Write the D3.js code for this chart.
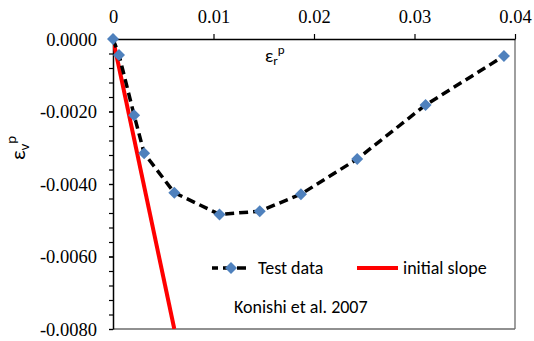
<!DOCTYPE html>
<html><head><meta charset="utf-8">
<script src="https://cdn.jsdelivr.net/npm/d3@7"></script>
<style>body{margin:0;background:#fff}svg{display:block}</style>
</head><body>
<svg id="c" width="534" height="341"></svg>
<script>
const testX = [0, 0.0006, 0.0021, 0.0031, 0.0061, 0.0106, 0.0146, 0.0187, 0.0243, 0.0311, 0.0389];
const testY = [0, -0.00044, -0.0021, -0.00315, -0.00424, -0.00484, -0.00475, -0.00428, -0.00331, -0.00182, -0.00047];
const slopeX = [0, 0.0061];
const slopeY = [0, -0.0080];
const xTicks = [0, 0.01, 0.02, 0.03, 0.04];
const xTickLabels = ["0", "0.01", "0.02", "0.03", "0.04"];
const yTicks = [0, -0.002, -0.004, -0.006, -0.008];
const yTickLabels = ["0.0000", "-0.0020", "-0.0040", "-0.0060", "-0.0080"];
const seriesNames = ["Test data", "initial slope"];
const note = "Konishi et al. 2007";

const SERIF_STYLE = "font: 18.5px 'Times New Roman'";
const SANS = 'Carlito, "Liberation Sans", sans-serif';

const svg = d3.select("#c");
const L = 113, R = 515, T = 39, B = 329;
const x = d3.scaleLinear().domain([0, 0.04]).range([L, R]);
const y = d3.scaleLinear().domain([-0.008, 0]).range([B, T]);

svg.append("defs").append("clipPath").attr("id", "clip")
  .append("rect").attr("x", L).attr("y", T).attr("width", R - L).attr("height", B - T);

svg.append("line").attr("x1", R).attr("x2", R).attr("y1", T).attr("y2", B).attr("stroke", "#6b6b6b").attr("stroke-width", 1.3);
svg.append("line").attr("x1", L).attr("x2", R).attr("y1", B).attr("y2", B).attr("stroke", "#6b6b6b").attr("stroke-width", 1.3);

const xa = svg.append("g").attr("transform", `translate(0,${T})`)
  .call(d3.axisTop(x).tickValues(xTicks).tickSize(5).tickSizeOuter(0)
    .tickFormat((d, i) => xTickLabels[i]));
xa.attr("font-family", null).attr("font-size", null);
xa.select(".domain").attr("stroke", "#000").attr("stroke-width", 1.5);
xa.selectAll(".tick line").attr("stroke", "#000").attr("stroke-width", 1.2);
xa.selectAll(".tick text").attr("style", SERIF_STYLE)
  .attr("fill", "#000").attr("y", -16).attr("dy", 0);

const minor = d3.range(0, 21).map(i => -i * 0.0004);
const ym = svg.append("g").attr("transform", `translate(${L},0)`)
  .call(d3.axisLeft(y).tickValues(minor).tickSize(4).tickFormat(""));
ym.select(".domain").remove();
ym.selectAll(".tick line").attr("stroke", "#000").attr("stroke-width", 1.2);
ym.selectAll(".tick text").remove();
const ya = svg.append("g").attr("transform", `translate(${L},0)`)
  .call(d3.axisLeft(y).tickValues(yTicks).tickSize(4).tickSizeOuter(0)
    .tickFormat((d, i) => yTickLabels[i]));
ya.attr("font-family", null).attr("font-size", null);
ya.select(".domain").attr("stroke", "#000").attr("stroke-width", 1.5);
ya.selectAll(".tick line").attr("stroke", "#000").attr("stroke-width", 1.2);
ya.selectAll(".tick text").attr("style", SERIF_STYLE)
  .attr("fill", "#000").attr("x", -16).attr("dy", "0.34em");

const xt = svg.append("text").style("font-family", SANS).attr("x", 265).attr("y", 62).style("font-size", "18px");
xt.append("tspan").text("ε");
xt.append("tspan").style("font-size", "13px").attr("dy", 3).text("r");
xt.append("tspan").style("font-size", "13px").attr("dy", -11).text("p");

const yt = svg.append("text").style("font-family", SANS).attr("transform", "translate(25,160) rotate(-90)").style("font-size", "21px");
yt.append("tspan").text("ε");
yt.append("tspan").style("font-size", "15px").attr("dy", 4).text("v");
yt.append("tspan").style("font-size", "15px").attr("dy", -13).text("p");

const g = svg.append("g").attr("clip-path", "url(#clip)");
const pts = testX.map((d, i) => [d, testY[i]]);
const line = d3.line().x(d => x(d[0])).y(d => y(d[1]));
svg.append("path").datum(pts).attr("d", line).attr("fill", "none")
  .attr("stroke", "#000").attr("stroke-width", 3.5).attr("stroke-dasharray", "9,5");

const diamond = s => `M0,${-s}L${s},0L0,${s}L${-s},0Z`;
svg.append("g").selectAll("path").data(pts).join("path")
  .attr("transform", d => `translate(${x(d[0])},${y(d[1])})`)
  .attr("d", diamond(6)).attr("fill", "#4f81bd");

const sl = slopeX.map((d, i) => [d, slopeY[i]]);
g.append("path").datum(sl).attr("d", line).attr("fill", "none")
  .attr("stroke", "#ff0000").attr("stroke-width", 4);

const lg = svg.append("g");
lg.append("line").attr("x1", 212).attr("x2", 250).attr("y1", 268).attr("y2", 268)
  .attr("stroke", "#000").attr("stroke-width", 3.5).attr("stroke-dasharray", "9,5").attr("stroke-dashoffset", 3);
lg.append("path").attr("transform", "translate(231,268)").attr("d", diamond(6)).attr("fill", "#4f81bd");
lg.append("text").style("font-family", SANS).attr("x", 258).attr("y", 274).style("font-size", "18px").text(seriesNames[0]);
lg.append("line").attr("x1", 357).attr("x2", 398).attr("y1", 268).attr("y2", 268)
  .attr("stroke", "#ff0000").attr("stroke-width", 4);
lg.append("text").style("font-family", SANS).attr("x", 403).attr("y", 274).style("font-size", "18px").text(seriesNames[1]);
svg.append("text").style("font-family", SANS).attr("x", 234).attr("y", 313).style("font-size", "18px").text(note);
</script>
</body></html>
